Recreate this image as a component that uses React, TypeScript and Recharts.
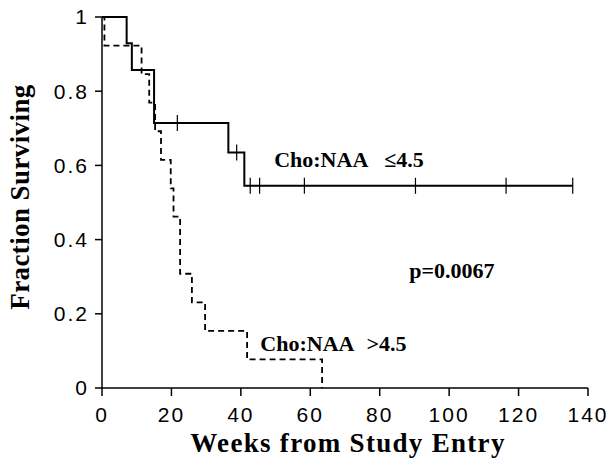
import React from 'react';
import { ComposedChart, Line, Scatter, XAxis, YAxis, ReferenceDot, Label } from 'recharts';

// Cho:NAA <= 4.5 (solid)
const lowWeeks = [0, 7.1, 8.6, 15.0, 36.4, 41.0, 135.6];
const lowSurv = [1, 0.929, 0.857, 0.714, 0.635, 0.545, 0.545];
// Cho:NAA > 4.5 (dashed)
const highWeeks = [0, 0.7, 11.4, 13.6, 15.3, 17.0, 19.8, 20.6, 22.5, 25.9, 29.7, 41.8, 63.4];
const highSurv = [1, 0.923, 0.846, 0.769, 0.692, 0.615, 0.538, 0.462, 0.308, 0.231, 0.154, 0.077, 0];
// censored observations (solid group)
const censorWeeks = [21.7, 38.8, 42.7, 45.4, 58.3, 90.3, 116.4, 135.6];
const censorSurv = [0.714, 0.635, 0.545, 0.545, 0.545, 0.545, 0.545, 0.545];

const xTicks = [0, 20, 40, 60, 80, 100, 120, 140];
const yTicks = [0, 0.2, 0.4, 0.6, 0.8, 1];

const lowData = lowWeeks.map((w, i) => ({ w, s: lowSurv[i] }));
const highData = highWeeks.map((w, i) => ({ w, s: highSurv[i] }));
const censorData = censorWeeks.map((w, i) => ({ w, s: censorSurv[i] }));

const serif = '"Liberation Serif", "Times New Roman", serif';
const sans = '"Liberation Sans", Arial, sans-serif';

const tickStyle = { fontSize: 21, fontFamily: sans, fill: '#000', letterSpacing: 2 };

const CensorMark = (props: any) => {
  const { cx, cy } = props;
  if (cx == null || cy == null) return null;
  return <line x1={cx} x2={cx} y1={cy - 8} y2={cy + 8} stroke="#000" strokeWidth={1.2} />;
};

const annot = (content: React.ReactNode, size = 22) => (p: any) => {
  const vb = p.viewBox || {};
  return (
    <text x={vb.x} y={vb.y} fontFamily={serif} fontWeight="bold" fontSize={size} fill="#000">
      {content}
    </text>
  );
};

export default function App() {
  return (
    <div style={{ position: 'absolute', left: 0, top: 0, background: '#fff' }}>
      <ComposedChart width={611} height={461} margin={{ top: 17, right: 23, bottom: 0, left: 0 }}>
        <XAxis
          type="number"
          dataKey="w"
          domain={[0, 140]}
          ticks={xTicks}
          height={73}
          tickSize={8}
          tickMargin={11}
          tick={tickStyle}
          axisLine={{ stroke: '#000', strokeWidth: 1.5 }}
          tickLine={{ stroke: '#000', strokeWidth: 1.5 }}
          allowDataOverflow
        >
          <Label
            content={() => (
              <text
                x={348}
                y={452}
                textAnchor="middle"
                fontFamily={serif}
                fontWeight="bold"
                fontSize={27}
                letterSpacing={1.3}
                fill="#000"
              >
                Weeks from Study Entry
              </text>
            )}
          />
        </XAxis>
        <YAxis
          type="number"
          dataKey="s"
          domain={[0, 1]}
          ticks={yTicks}
          width={102}
          tickSize={7}
          tickMargin={6}
          tick={tickStyle}
          tickFormatter={(v: number) => String(v)}
          axisLine={{ stroke: '#000', strokeWidth: 1.5 }}
          tickLine={{ stroke: '#000', strokeWidth: 1.5 }}
        >
          <Label
            content={() => (
              <text
                x={29}
                y={197}
                transform="rotate(-90 29 197)"
                textAnchor="middle"
                fontFamily={serif}
                fontWeight="bold"
                fontSize={27}
                letterSpacing={0.4}
                fill="#000"
              >
                Fraction Surviving
              </text>
            )}
          />
        </YAxis>
        <Line
          data={highData}
          dataKey="s"
          type="stepAfter"
          stroke="#000"
          strokeWidth={1.8}
          strokeDasharray="6 4"
          dot={false}
          activeDot={false}
          isAnimationActive={false}
        />
        <Line
          data={lowData}
          dataKey="s"
          type="stepAfter"
          stroke="#000"
          strokeWidth={2}
          dot={false}
          activeDot={false}
          isAnimationActive={false}
        />
        <Scatter data={censorData} dataKey="s" shape={<CensorMark />} isAnimationActive={false} />
        <ReferenceDot
          x={49.6}
          y={0.596}
          r={0}
          fill="none"
          stroke="none"
          ifOverflow="visible"
          label={{
            content: annot(
              <>
                <tspan>Cho:NAA</tspan>
                <tspan dx={16}>≤4.5</tspan>
              </>
            ),
          }}
        />
        <ReferenceDot
          x={45.6}
          y={0.1}
          r={0}
          fill="none"
          stroke="none"
          ifOverflow="visible"
          label={{
            content: annot(
              <>
                <tspan>Cho:NAA</tspan>
                <tspan dx={12}>&gt;4.5</tspan>
              </>
            ),
          }}
        />
        <ReferenceDot
          x={88.5}
          y={0.297}
          r={0}
          fill="none"
          stroke="none"
          ifOverflow="visible"
          label={{ content: annot('p=0.0067') }}
        />
      </ComposedChart>
    </div>
  );
}
